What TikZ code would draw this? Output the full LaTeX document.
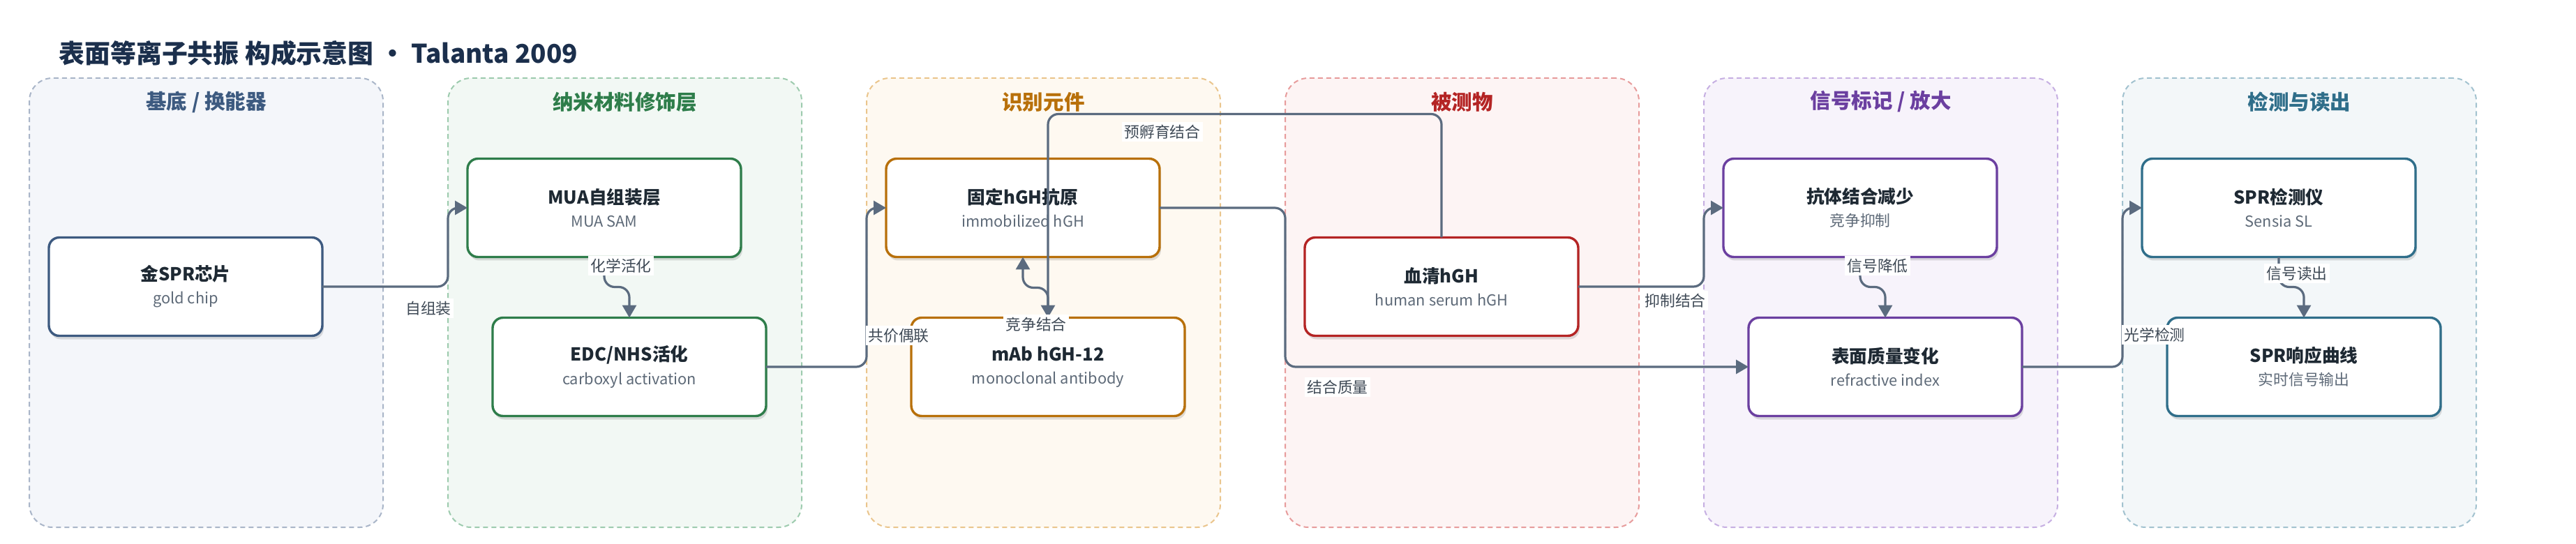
\documentclass[tikz,border=0pt]{standalone}
\usepackage{fontspec}
\setmainfont{Noto Sans CJK SC}
\usepackage[HTML]{xcolor}
\usepackage{tikz}
\usetikzlibrary{positioning, arrows.meta, shadows}

\definecolor{headInk}{HTML}{1B2F4C}
\definecolor{boxInk}{HTML}{1E2933}
\definecolor{subInk}{HTML}{5E6A78}
\definecolor{lblInk}{HTML}{3E4955}
\definecolor{connGray}{HTML}{5B6B7F}
\definecolor{subText}{HTML}{3D5A80}\definecolor{subLine}{HTML}{A9B5C8}\definecolor{subFill}{HTML}{F4F6FA}
\definecolor{nanoText}{HTML}{2E7D4A}\definecolor{nanoLine}{HTML}{9DCBAE}\definecolor{nanoFill}{HTML}{F2F8F4}
\definecolor{recText}{HTML}{B8700A}\definecolor{recLine}{HTML}{EAC58C}\definecolor{recFill}{HTML}{FEF9F1}
\definecolor{anaText}{HTML}{B42424}\definecolor{anaLine}{HTML}{E79C9C}\definecolor{anaFill}{HTML}{FDF4F4}
\definecolor{sigText}{HTML}{6B3FA0}\definecolor{sigLine}{HTML}{C6AFE2}\definecolor{sigFill}{HTML}{F7F3FB}
\definecolor{detText}{HTML}{2F6E8A}\definecolor{detLine}{HTML}{A2C2CF}\definecolor{detFill}{HTML}{F3F7F9}

\newcommand{\boxtext}[2]{{\fontsize{7.3}{9.4}\selectfont\bfseries\color{boxInk}#1}\\{\fontsize{6.2}{9.4}\selectfont\color{subInk}#2}}

\begin{document}
\begin{tikzpicture}[
  panel/.style 2 args={draw=#1, fill=#2, line width=0.02cm, dash pattern=on 0.07cm off 0.05cm,
    rounded corners=0.33cm, minimum width=5.07cm, minimum height=6.44cm, inner sep=0pt, outer sep=0pt},
  ptitle/.style={text=#1, font=\fontsize{8.4}{10}\selectfont\bfseries},
  box/.style={draw=#1, fill=white, line width=0.034cm, rounded corners=0.15cm,
    minimum width=3.92cm, minimum height=1.41cm, align=center, outer sep=0pt,
    font=\fontsize{7}{9.4}\selectfont,
    drop shadow={shadow xshift=0.02cm, shadow yshift=-0.05cm, fill=black, opacity=0.12}},
  conn/.style={draw=connGray, line width=0.032cm, rounded corners=0.15cm,
    -{Triangle[length=0.18cm, width=0.2cm]}},
  lbl/.style={fill=white, text=lblInk, font=\fontsize{6.2}{7.5}\selectfont, inner sep=1pt}
]
\useasboundingbox (0,0) rectangle (36.92,7.79);
\node[anchor=west, text=headInk, font=\fontsize{10.5}{12}\selectfont\bfseries] (head) at (0.72,7.03)
  {表面等离子共振 构成示意图 • Talanta 2009};
% --- 基底 / 换能器 ---
\begin{scope}[xshift=0cm]
\node[panel={subLine}{subFill}] (p1) at (2.955,3.45) {};
\node[ptitle=subText] (t1) at (2.955,6.33) {基底 / 换能器};
\node[box=subText] (gold) at (2.66,3.68) {\boxtext{金SPR芯片}{gold chip}};
\end{scope}
% --- 纳米材料修饰层 ---
\begin{scope}[xshift=6cm]
\node[panel={nanoLine}{nanoFill}] (p2) at (2.955,3.45) {};
\node[ptitle=nanoText] (t2) at (2.955,6.33) {纳米材料修饰层};
\node[box=nanoText] (mua) at (2.66,4.81) {\boxtext{MUA自组装层}{MUA SAM}};
\node[box=nanoText] (edc) at (3.02,2.53) {\boxtext{EDC/NHS活化}{carboxyl activation}};
\end{scope}
% --- 识别元件 ---
\begin{scope}[xshift=12cm]
\node[panel={recLine}{recFill}] (p3) at (2.955,3.45) {};
\node[ptitle=recText] (t3) at (2.955,6.33) {识别元件};
\node[box=recText] (gu) at (2.66,4.81) {\boxtext{固定hGH抗原}{immobilized hGH}};
\node[box=recText] (mab) at (3.02,2.53) {\boxtext{mAb hGH-12}{monoclonal antibody}};
\end{scope}
% --- 被测物 ---
\begin{scope}[xshift=18cm]
\node[panel={anaLine}{anaFill}] (p4) at (2.955,3.45) {};
\node[ptitle=anaText] (t4) at (2.955,6.33) {被测物};
\node[box=anaText] (xq) at (2.66,3.68) {\boxtext{血清hGH}{human serum hGH}};
\end{scope}
% --- 信号标记 / 放大 ---
\begin{scope}[xshift=24cm]
\node[panel={sigLine}{sigFill}] (p5) at (2.955,3.45) {};
\node[ptitle=sigText] (t5) at (2.955,6.33) {信号标记 / 放大};
\node[box=sigText] (kt) at (2.66,4.81) {\boxtext{抗体结合减少}{竞争抑制}};
\node[box=sigText] (bm) at (3.02,2.53) {\boxtext{表面质量变化}{refractive index}};
\end{scope}
% --- 检测与读出 ---
\begin{scope}[xshift=30cm]
\node[panel={detLine}{detFill}] (p6) at (2.955,3.45) {};
\node[ptitle=detText] (t6) at (2.955,6.33) {检测与读出};
\node[box=detText] (det) at (2.66,4.81) {\boxtext{SPR检测仪}{Sensia SL}};
\node[box=detText] (resp) at (3.02,2.53) {\boxtext{SPR响应曲线}{实时信号输出}};
\end{scope}
% connectors
\draw[conn] (gold.east) -- (gold.east -| p2.west) |- (mua.west);
\draw[conn] (mua.south) -- ++(0,-0.43) -| (edc.north);
\draw[conn] (edc.east) -- (edc.east -| p3.west) |- (gu.west);
\draw[conn] (gu.east) -- (gu.east -| p4.west) |- (bm.west);
\draw[conn] (xq.north) -- ++(0,1.77) -| (mab.north);
\draw[conn] (mab.north) -- ++(0,0.43) -| (gu.south);
\draw[conn] (xq.east) -- (xq.east -| p5.west) |- (kt.west);
\draw[conn] (kt.south) -- ++(0,-0.43) -| (bm.north);
\draw[conn] (bm.east) -- (bm.east -| p6.west) |- (det.west);
\draw[conn] (det.south) -- ++(0,-0.43) -| (resp.north);
% labels
\node[lbl] (l1) at (6.14,3.37) {自组装};
\node[lbl] (l2) at (8.90,3.98) {化学活化};
\node[lbl] (l3) at (12.88,2.98) {共价偶联};
\node[lbl] (l4) at (16.66,5.90) {预孵育结合};
\node[lbl] (l5) at (14.85,3.14) {竞争结合};
\node[lbl] (l6) at (19.17,2.24) {结合质量};
\node[lbl] (l7) at (24.01,3.48) {抑制结合};
\node[lbl] (l8) at (26.91,3.98) {信号降低};
\node[lbl] (l9) at (30.88,2.99) {光学检测};
\node[lbl] (l10) at (32.92,3.87) {信号读出};
\end{tikzpicture}
\end{document}
